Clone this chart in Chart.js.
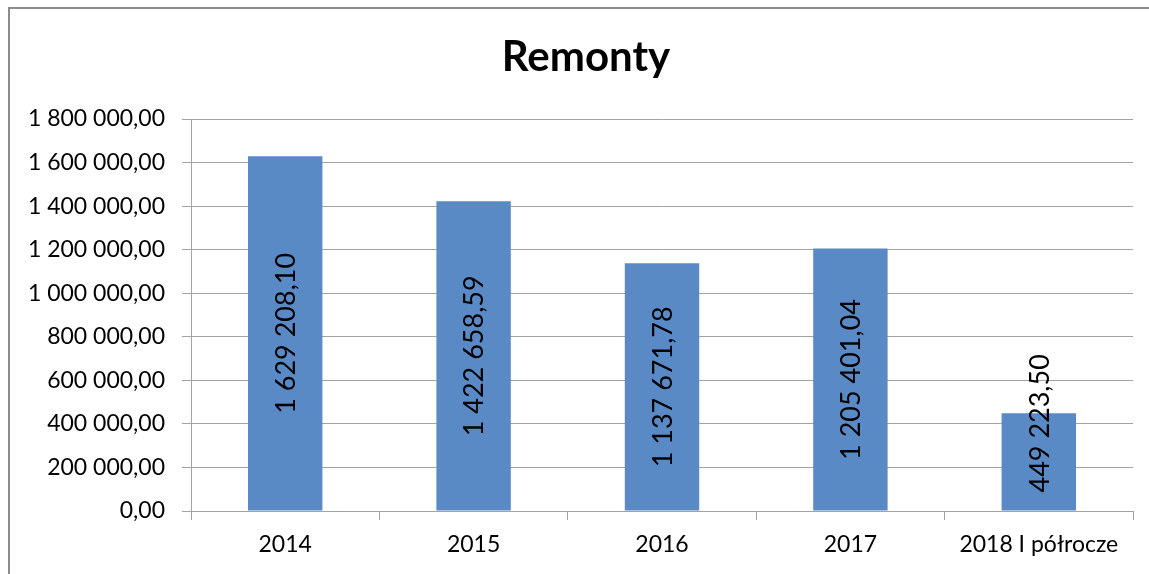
<!DOCTYPE html>
<html>
<head>
    <title>Remonty</title>
    <script src="https://cdn.jsdelivr.net/npm/chart.js"></script>
    <style>
        body { margin: 0; background: #fff; }
        #chart-container { width: 1149px; height: 574px; }
    </style>
</head>
<body>
    <div id="chart-container">
        <canvas id="chartRemonty"></canvas>
    </div>

    <script>
    // dane wykresu
    const chartTitle = 'Remonty';
    const years = ['2014', '2015', '2016', '2017', '2018 I półrocze'];
    const kwoty = [1629208.10, 1422658.59, 1137671.78, 1205401.04, 449223.50];
    const yMax = 1800000;
    const yStep = 200000;

    const gridColor = '#a3a3a3';
    const barColor = '#5a8ac6';

    // format polski: spacja jako separator tysięcy, przecinek dziesiętny
    function fmtPL(v) {
        const parts = Number(v).toFixed(2).split('.');
        const intPart = parts[0].replace(/\B(?=(\d{3})+(?!\d))/g, ' ');
        return intPart + ',' + parts[1];
    }

    // ramka wokół wykresu (lewa i górna krawędź) + tytuł
    const frame = {
        id: 'frame',
        beforeDraw(chart) {
            const ctx = chart.ctx;
            ctx.save();
            ctx.strokeStyle = '#8c8c8c';
            ctx.lineWidth = 2;
            ctx.beginPath();
            ctx.moveTo(9, chart.height);
            ctx.lineTo(9, 8);
            ctx.lineTo(chart.width, 8);
            ctx.stroke();

            ctx.fillStyle = '#000';
            ctx.font = 'bold 42px Lato';
            ctx.textAlign = 'center';
            ctx.textBaseline = 'alphabetic';
            ctx.fillText(chartTitle, 586, 71);
            ctx.restore();
        }
    };

    // etykiety wartości obrócone o 90 stopni wewnątrz słupków
    const barLabels = {
        id: 'barLabels',
        afterDatasetsDraw(chart) {
            const ctx = chart.ctx;
            const meta = chart.getDatasetMeta(0);
            ctx.save();
            ctx.font = '27px Lato';
            ctx.fillStyle = '#000';
            ctx.textAlign = 'center';
            ctx.textBaseline = 'middle';
            meta.data.forEach((bar, i) => {
                const txt = fmtPL(kwoty[i]);
                const w = ctx.measureText(txt).width;
                const h = bar.base - bar.y;
                let cy = bar.y + h / 2;
                if (w > h - 10) cy = bar.base - 18 - w / 2;
                ctx.save();
                ctx.translate(bar.x, cy);
                ctx.rotate(-Math.PI / 2);
                ctx.fillText(txt, 0, 1);
                ctx.restore();
            });
            ctx.restore();
        }
    };

    const ctx = document.getElementById('chartRemonty').getContext('2d');
    window.barChart = new Chart(ctx, {
        type: 'bar',
        data: {
            labels: years,
            datasets: [{
                label: chartTitle,
                data: kwoty,
                backgroundColor: barColor,
                borderWidth: 0,
                barPercentage: 0.395,
                categoryPercentage: 1
            }]
        },
        options: {
            responsive: true,
            maintainAspectRatio: false,
            animation: false,
            layout: { padding: { left: 0, right: 16, top: 119, bottom: 0 } },
            plugins: {
                legend: { display: false },
                tooltip: { enabled: false },
                title: { display: false }
            },
            scales: {
                y: {
                    min: 0,
                    max: yMax,
                    ticks: {
                        stepSize: yStep,
                        color: '#000',
                        font: { family: 'Lato', size: 23 },
                        padding: 17,
                        callback: v => fmtPL(v)
                    },
                    grid: { color: gridColor, tickLength: 9, tickColor: gridColor },
                    border: { color: gridColor },
                    afterFit(scale) { scale.width = 191; }
                },
                x: {
                    ticks: {
                        color: '#000',
                        font: { family: 'Lato', size: 23 },
                        padding: 11,
                        maxRotation: 0
                    },
                    grid: { drawOnChartArea: false, tickLength: 9, color: gridColor, offset: true },
                    border: { color: gridColor },
                    afterFit(scale) { scale.height = 63; }
                }
            }
        },
        plugins: [frame, barLabels]
    });
    </script>
</body>
</html>
